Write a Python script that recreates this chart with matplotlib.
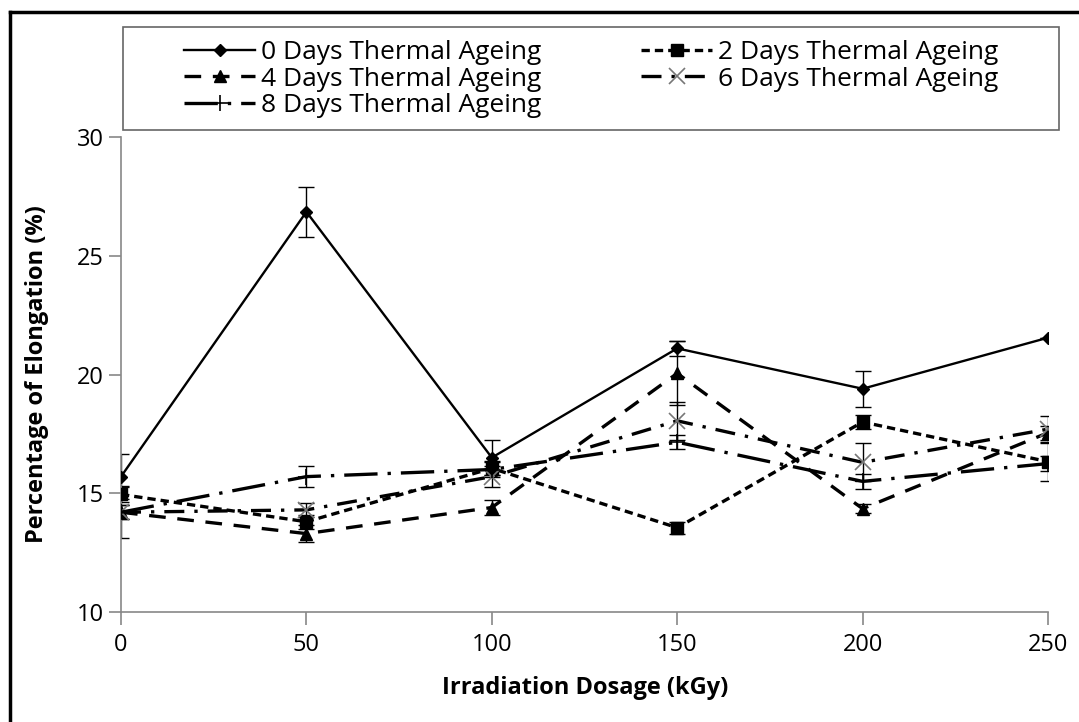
import matplotlib
matplotlib.use("Agg")
import matplotlib.pyplot as plt
from matplotlib.lines import Line2D
from matplotlib.patches import Rectangle
import numpy as np

plt.rcParams["font.family"] = "Open Sans"

dose = [0, 50, 100, 150, 200, 250]

labels = ['0 Days Thermal Ageing', '2 Days Thermal Ageing', '4 Days Thermal Ageing',
          '6 Days Thermal Ageing', '8 Days Thermal Ageing']

day0 = [15.7, 26.85, 16.5, 21.1, 19.4, 21.55]
day2 = [14.95, 13.8, 16.05, 13.55, 18.0, 16.33]
day4 = [14.2, 13.3, 14.4, 20.05, 14.35, 17.55]
day6 = [14.2, 14.3, 15.7, 18.05, 16.3, 17.7]
day8 = [14.2, 15.7, 16.0, 17.15, 15.5, 16.25]

err0 = [0.95, 1.05, 0.75, 0.3, 0.75, 0.0]
err2 = [0.3, 0.3, 0.3, 0.25, 0.3, 0.8]
err4 = [0.3, 0.35, 0.3, 1.35, 0.2, 0.3]
err6 = [1.1, 0.3, 0.45, 0.8, 0.8, 0.55]
err8 = [0.3, 0.45, 0.3, 0.3, 0.3, 0.3]

W, H = 1079, 722
fig = plt.figure(figsize=(W/100, H/100), dpi=100)
ax = fig.add_axes([121/W, 1-612/H, (1048-121)/W, (612-137)/H])

styles = [
    dict(ls='-', lw=1.7, marker='D', ms=6, mfc='black', mec='black'),
    dict(ls=(0, (2.5, 1.5)), lw=2.4, marker='s', ms=8, mfc='black', mec='black'),
    dict(ls=(0, (5, 3.5)), lw=2.4, marker='^', ms=8, mfc='black', mec='black'),
    dict(ls=(0, (6, 3, 1, 3)), lw=2.4, marker='x', ms=12, mfc='none', mec='#777777', mew=1.2),
    dict(ls=(0, (10, 3, 1, 3)), lw=2.4, marker='+', ms=12, mfc='black', mec='black', mew=1.2),
]
series = [day0, day2, day4, day6, day8]
errs = [err0, err2, err4, err6, err8]

handles = []
for vals, e, st, lab in zip(series, errs, styles, labels):
    ax.errorbar(dose, vals, yerr=e, fmt='none', ecolor='black', elinewidth=1,
                capsize=6, capthick=1, zorder=2)
    h, = ax.plot(dose, vals, color='black', label=lab, zorder=3, **st)
    handles.append(h)

ax.set_xlim(0, 250)
ax.set_ylim(10, 30)
ax.set_xticks(dose)
ax.set_yticks([10, 15, 20, 25, 30])
ax.spines['top'].set_visible(False)
ax.spines['right'].set_visible(False)
for s in ['left', 'bottom']:
    ax.spines[s].set_color('#888888')
    ax.spines[s].set_linewidth(1.2)
ax.tick_params(axis='both', colors='#888888', length=9, width=1.2, labelcolor='black',
               labelsize=17)
ax.tick_params(axis='x', pad=6)
ax.set_xlabel('Irradiation Dosage (kGy)', fontsize=17, fontweight='bold')
ax.set_ylabel('Percentage of Elongation (%)', fontsize=17, fontweight='bold')
ax.xaxis.set_label_coords((585-121)/927, (612-676)/475)
ax.yaxis.set_label_coords((49-121)/927, 0.5)
ax.patch.set_alpha(0)

# legend: frame drawn separately, entries centred in it
fig.patches.append(Rectangle((123/W, 1-130/H), (1059-123)/W, (130-27)/H,
                             transform=fig.transFigure, fill=False,
                             edgecolor='#666666', lw=1.2))
order = [0, 2, 4, 1, 3]
leg = fig.legend([handles[i] for i in order], [labels[i] for i in order],
                 loc='center', ncol=2,
                 bbox_to_anchor=((123+1059)/2/W, 1-79/H),
                 fontsize=19, frameon=False, handlelength=2.7,
                 borderpad=0, labelspacing=0.05, handletextpad=0.2,
                 columnspacing=3.8)

# outer border (top and left edges visible)
fig.add_artist(Line2D([10/W, 1], [1-12/H, 1-12/H], transform=fig.transFigure,
                      color='black', lw=2.5))
fig.add_artist(Line2D([10/W, 10/W], [0, 1-12/H], transform=fig.transFigure,
                      color='black', lw=2.5))

plt.savefig('out.png', dpi=100)
